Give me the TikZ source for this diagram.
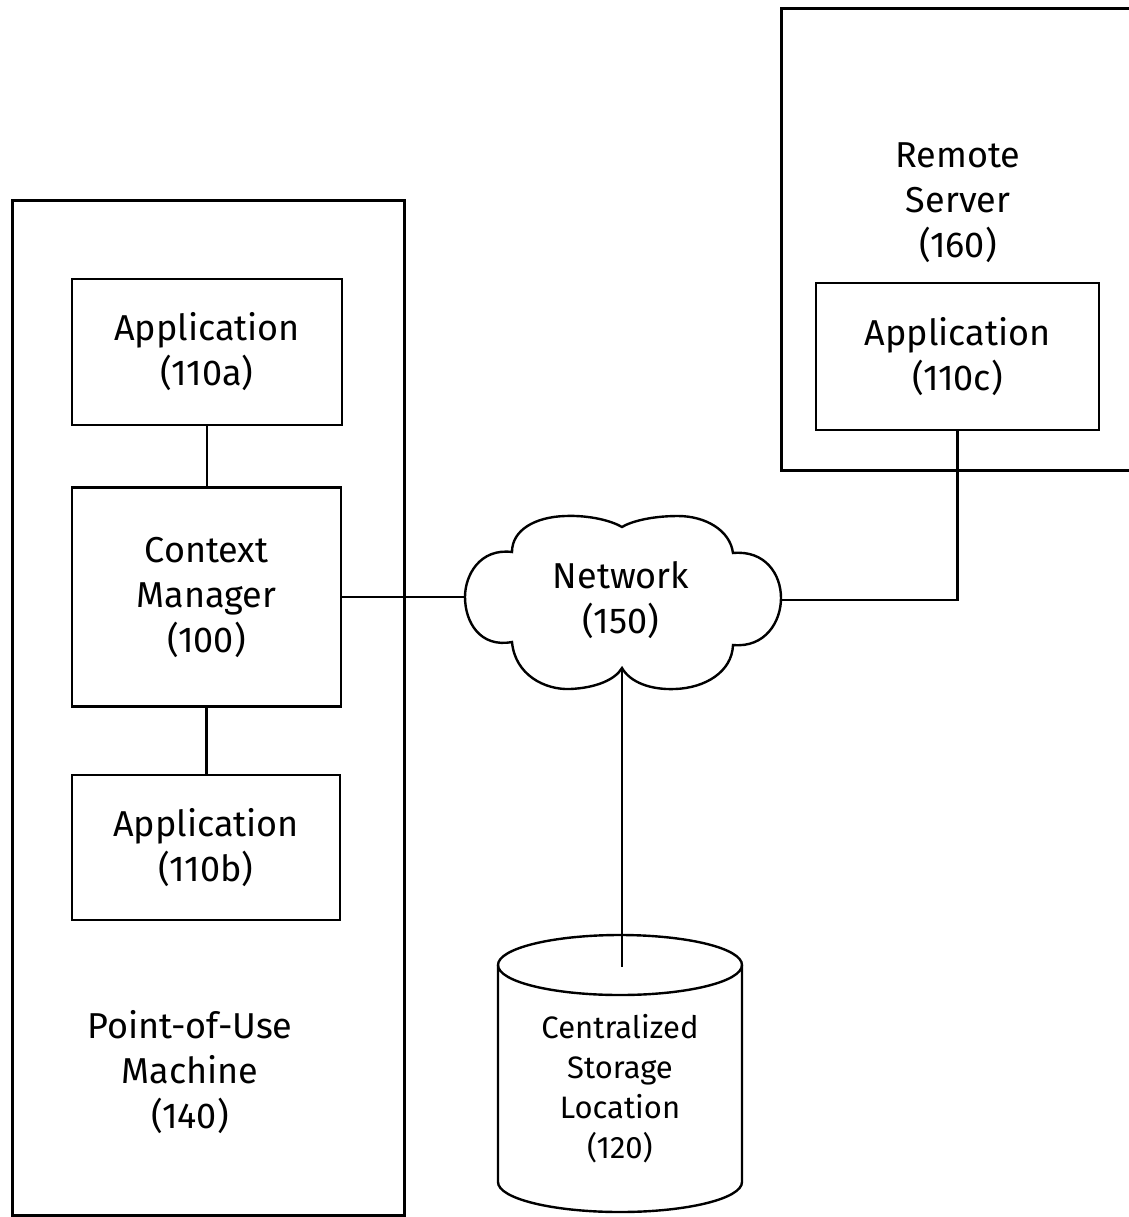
\documentclass[tikz,border=0pt]{standalone}
\usepackage{fontspec}
\setmainfont{Fira Sans}
\tikzset{
  frame/.style={draw, line width=1.5pt},
  box/.style={draw, line width=1.2pt, align=center, font=\fontsize{18}{22.5}\selectfont},
  lbl/.style={align=center, font=\fontsize{18}{22.5}\selectfont},
  link/.style={line width=1.2pt},
}
\begin{document}
\begin{tikzpicture}[x=0.5pt,y=-0.5pt]
  \useasboundingbox (0,0) rectangle (1129,1217);
  % machines
  \node[frame, minimum width=196pt, minimum height=507.5pt] (pum) at (208,707.5) {};
  \node[frame, minimum width=179.5pt, minimum height=231pt] (srv) at (960.5,239) {};
  \node[lbl] (pumlabel) at (190,1072) {Point-of-Use\\Machine\\(140)};
  \node[lbl] (srvlabel) at (958,203) {Remote\\Server\\(160)};
  % applications and context manager
  \node[box, minimum width=135pt, minimum height=73pt] (appa) at (207,352) {Application\\(110a)};
  \node[box, minimum width=134.5pt, minimum height=109.5pt] (cm) at (206.5,597) {Context\\Manager\\(100)};
  \node[box, minimum width=134pt, minimum height=72.5pt] (appb) at (206,847.5) {Application\\(110b)};
  \node[box, minimum width=141.5pt, minimum height=73.5pt] (appc) at (957.5,356.5) {Application\\(110c)};
  % network cloud
  \draw[link] (512,552) .. controls (480,548) and (465,575) .. (465,597)
    .. controls (465,622) and (480,648) .. (512,642)
    .. controls (515,675) and (545,690) .. (570,689)
    .. controls (595,688) and (615,680) .. (622,668)
    .. controls (630,682) and (650,690) .. (675,689)
    .. controls (705,688) and (732,672) .. (733,645)
    .. controls (765,648) and (781,622) .. (781,598)
    .. controls (781,574) and (765,550) .. (733,553)
    .. controls (730,530) and (705,516) .. (678,516)
    .. controls (650,516) and (630,522) .. (622,527)
    .. controls (612,521) and (590,515) .. (565,516)
    .. controls (535,517) and (512,530) .. (512,552) -- cycle;
  \node[lbl] (net) at (621,600) {Network\\(150)};
  \coordinate (netW) at (465,597);
  \coordinate (netE) at (781,600);
  \coordinate (netS) at (622,668);
  % storage cylinder
  \draw[link] (620,965) ellipse [x radius=122, y radius=30];
  \draw[link] (498,965) -- (498,1182) arc[start angle=180, end angle=0, x radius=122, y radius=30] -- (742,965);
  \node[align=center, font=\fontsize{15.5}{20}\selectfont] (store) at (620,1089) {Centralized\\Storage\\Location\\(120)};
  \coordinate (storetop) at (622,967);
  % connections
  \draw[link] (appa.south) -- (appa.south |- cm.north);
  \draw[link] (cm.south) -- (cm.south |- appb.north);
  \draw[link] (cm.east) -- (netW);
  \draw[link] (netS) -- (storetop);
  \draw[link] (appc.south) |- (netE);
\end{tikzpicture}
\end{document}
